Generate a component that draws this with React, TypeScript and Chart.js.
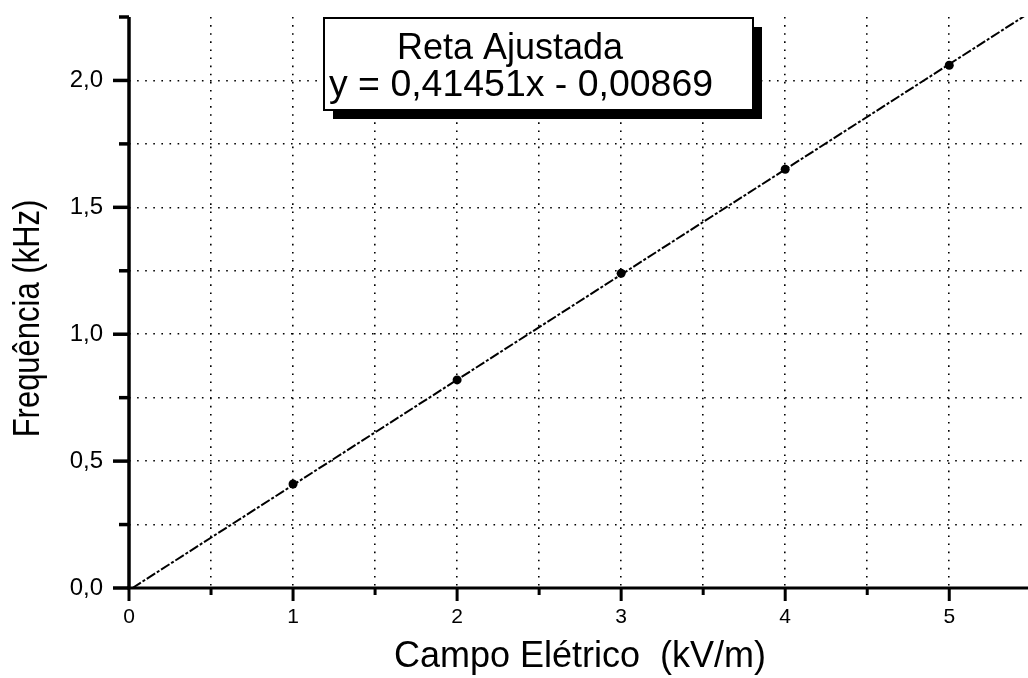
import React, { useEffect, useRef } from 'react';
import { Chart, registerables } from 'chart.js';

Chart.register(...registerables);

// ---- data ----
const fieldValues = [1, 2, 3, 4, 5]; // Campo Elétrico (kV/m)
const frequencyValues = [0.41, 0.82, 1.24, 1.65, 2.06]; // Frequência (kHz)

// fitted straight line end points (y = 0,41451x - 0,00869)
const fitLineX = [0.021, 5.48];
const fitLineY = [0.0, 2.263];

const xTickValues = [0, 0.5, 1, 1.5, 2, 2.5, 3, 3.5, 4, 4.5, 5];
const xTickLabels = ['0', '', '1', '', '2', '', '3', '', '4', '', '5'];
const yTickValues = [0, 0.25, 0.5, 0.75, 1, 1.25, 1.5, 1.75, 2, 2.25];
const yTickLabels = ['0,0', '', '0,5', '', '1,0', '', '1,5', '', '2,0', ''];

const xAxisTitle = 'Campo Elétrico  (kV/m)';
const yAxisTitle = 'Frequência (kHz)';
const legendLines = ['Reta Ajustada', 'y = 0,41451x - 0,00869'];

const X_MIN = 0;
const X_MAX = 5.48;
const Y_MIN = 0;
const Y_MAX = 2.25;

const FONT = '"Liberation Sans", Arial, Helvetica, sans-serif';

const overlayPlugin = {
  id: 'overlay',
  afterDraw(chart: any) {
    const { ctx, chartArea: a, scales } = chart;
    const xs = scales.x;
    const ys = scales.y;
    ctx.save();
    ctx.strokeStyle = '#000';
    ctx.fillStyle = '#000';
    ctx.lineCap = 'butt';

    // axes lines
    ctx.lineWidth = 3.5;
    ctx.beginPath();
    ctx.moveTo(a.left, a.top);
    ctx.lineTo(a.left, a.bottom);
    ctx.stroke();
    ctx.lineWidth = 3;
    ctx.beginPath();
    ctx.moveTo(a.left - 2, a.bottom);
    ctx.lineTo(a.right, a.bottom);
    ctx.stroke();

    // x tick marks (outward, below)
    ctx.lineWidth = 3;
    xTickValues.forEach((v, i) => {
      const px = xs.getPixelForValue(v);
      const len = xTickLabels[i] !== '' ? 13 : 7;
      ctx.beginPath();
      ctx.moveTo(px, a.bottom);
      ctx.lineTo(px, a.bottom + len);
      ctx.stroke();
    });
    // y tick marks (outward, left)
    ctx.lineWidth = 3.5;
    yTickValues.forEach((v, i) => {
      const py = ys.getPixelForValue(v);
      const len = yTickLabels[i] !== '' ? 16 : 10;
      ctx.beginPath();
      ctx.moveTo(a.left, py);
      ctx.lineTo(a.left - len, py);
      ctx.stroke();
    });

    // axis titles
    ctx.font = `36px ${FONT}`;
    ctx.textAlign = 'center';
    ctx.textBaseline = 'alphabetic';
    ctx.fillText(xAxisTitle, 580, 667);

    ctx.save();
    ctx.translate(29, (a.top + a.bottom) / 2 + 16);
    ctx.rotate(-Math.PI / 2);
    ctx.scale(1, 1.2);
    ctx.font = `31px ${FONT}`;
    ctx.textBaseline = 'middle';
    ctx.fillText(yAxisTitle, 0, 0);
    ctx.restore();

    // legend box with shadow
    const bx = 324;
    const by = 18;
    const bw = 429;
    const bh = 92;
    ctx.fillStyle = '#000';
    ctx.fillRect(bx + 9, by + 9, bw, bh);
    ctx.fillStyle = '#fff';
    ctx.fillRect(bx, by, bw, bh);
    ctx.strokeStyle = '#000';
    ctx.lineWidth = 2;
    ctx.strokeRect(bx, by, bw, bh);
    ctx.fillStyle = '#000';
    ctx.font = `36px ${FONT}`;
    ctx.textAlign = 'left';
    ctx.textBaseline = 'alphabetic';
    ctx.fillText(legendLines[0], 397, 59);
    ctx.save();
    ctx.translate(329, 96);
    ctx.scale(1.04, 1);
    ctx.fillText(legendLines[1], 0, 0);
    ctx.restore();

    ctx.restore();
  },
};

export default function App() {
  const canvasRef = useRef<HTMLCanvasElement | null>(null);

  useEffect(() => {
    const canvas = canvasRef.current;
    if (!canvas) return;
    const chart = new Chart(canvas, {
      type: 'scatter',
      data: {
        datasets: [
          {
            label: 'Reta Ajustada',
            data: fitLineX.map((x, i) => ({ x, y: fitLineY[i] })),
            showLine: true,
            borderColor: '#000',
            borderWidth: 2,
            borderDash: [10, 2, 3, 2],
            pointRadius: 0,
            fill: false,
          },
          {
            label: 'Frequência',
            data: fieldValues.map((x, i) => ({ x, y: frequencyValues[i] })),
            showLine: false,
            pointRadius: 4.5,
            pointBackgroundColor: '#000',
            pointBorderWidth: 0,
            backgroundColor: '#000',
          },
        ],
      },
      options: {
        responsive: false,
        animation: false,
        devicePixelRatio: 1,
        layout: { autoPadding: false, padding: { top: 17, right: 0, left: 0, bottom: 0 } },
        plugins: {
          legend: { display: false },
          tooltip: { enabled: false },
          title: { display: false },
        },
        scales: {
          x: {
            type: 'linear',
            min: X_MIN,
            max: X_MAX,
            afterBuildTicks: (s: any) => {
              s.ticks = xTickValues.map((value) => ({ value }));
            },
            afterFit: (s: any) => {
              s.height = 90;
              s.paddingLeft = 0;
              s.paddingRight = 0;
              s.paddingTop = 0;
              s.paddingBottom = 0;
            },
            ticks: {
              autoSkip: false,
              maxRotation: 0,
              color: '#000',
              padding: 17,
              font: { family: FONT, size: 21 },
              callback: (v: any) => xTickLabels[xTickValues.indexOf(Number(v))] ?? '',
            },
            grid: {
              drawTicks: false,
              lineWidth: 1.6,
              color: (c: any) => (c.tick && c.tick.value === 0 ? 'rgba(0,0,0,0)' : '#000'),
            },
            border: { display: false, dash: [1.6, 6.5] },
          },
          y: {
            type: 'linear',
            min: Y_MIN,
            max: Y_MAX,
            afterBuildTicks: (s: any) => {
              s.ticks = yTickValues.map((value) => ({ value }));
            },
            afterFit: (s: any) => {
              s.width = 129;
              s.paddingLeft = 0;
              s.paddingRight = 0;
              s.paddingTop = 0;
              s.paddingBottom = 0;
            },
            ticks: {
              autoSkip: false,
              color: '#000',
              padding: 26,
              font: { family: FONT, size: 24 },
              callback: (v: any) => yTickLabels[yTickValues.indexOf(Number(v))] ?? '',
            },
            grid: {
              drawTicks: false,
              lineWidth: 1.6,
              color: (c: any) =>
                c.tick && (c.tick.value === 0 || c.tick.value === Y_MAX) ? 'rgba(0,0,0,0)' : '#000',
            },
            border: { display: false, dash: [1.6, 6.5] },
          },
        },
      },
      plugins: [overlayPlugin],
    });
    return () => chart.destroy();
  }, []);

  return (
    <div style={{ position: 'fixed', left: 0, top: 0, width: 1028, height: 678, background: '#fff' }}>
      <canvas ref={canvasRef} width={1028} height={678} style={{ display: 'block' }} />
    </div>
  );
}
